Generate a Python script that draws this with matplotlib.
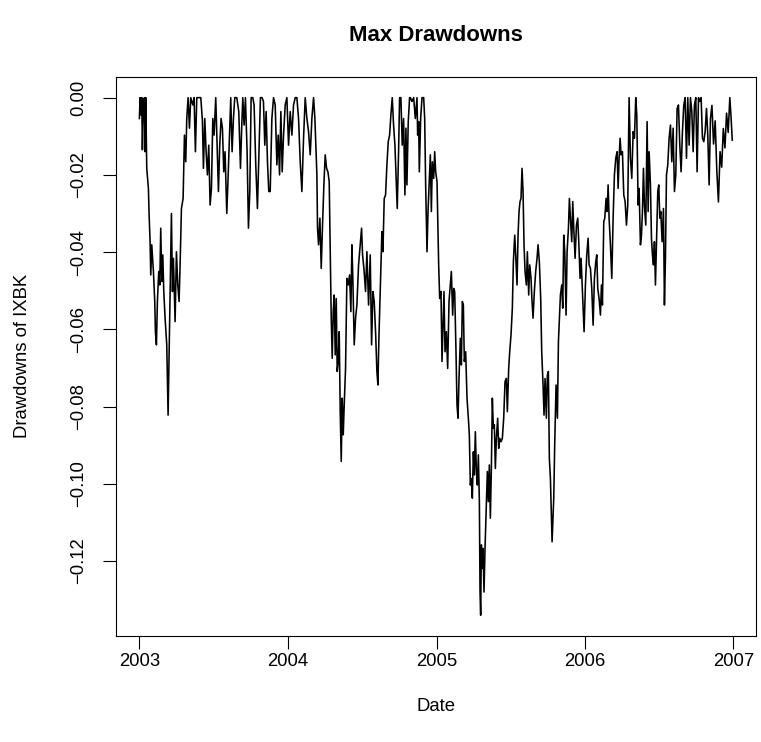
import numpy as np
import pandas as pd
import matplotlib
import matplotlib.pyplot as plt

matplotlib.use('Agg')
plt.rcParams['font.family'] = ['Liberation Sans', 'DejaVu Sans']

# days since 2003-01-01 and drawdown values
days_2003 = [0, 1.7, 4.0, 5.8, 7.4, 9.9, 12.4, 14.0, 15.6, 18.1, 22.2, 23.8, 26.3, 28.0, 30.4,
             34.5, 37.8, 39.4, 41.9, 44.3, 47.6, 50.1, 52.5, 55.0, 57.5, 60.0, 63.2, 67.3, 70.6,
             73.1, 75.5, 78.8, 81.3, 83.7, 87.8, 91.1, 94.4, 97.6, 100.1, 103.4, 107.5, 110.8,
             114.0, 116.5, 119.8, 123.1, 126.3, 131.3, 134.5, 137.8, 141.1, 146.0, 151.0, 155.0,
             157.5, 160.8, 164.1, 167.3, 170.6, 173.9, 177.2, 180.5, 183.7, 187.8, 191.1, 194.4,
             197.6, 200.9, 204.2, 207.5, 210.7, 214.9, 218.1, 221.4, 224.7, 228.0, 231.3, 234.5,
             239.5, 244.4, 248.6, 251.8, 254.3, 257.5, 260.8, 264.9, 268.2, 271.5, 274.8, 278.9,
             282.1, 286.2, 290.3, 294.4, 297.7, 301.8, 305.1, 308.4, 311.7, 315.0, 318.2]
dd_2003 = [-0.0054, 0, -0.0045, 0, -0.0135, -0.0019, 0, -0.0140, 0, -0.0183, -0.0235, -0.0300,
           -0.0373, -0.0459, -0.0381, -0.0450, -0.0528, -0.0606, -0.0640, -0.0528, -0.0450,
           -0.0485, -0.0338, -0.0476, -0.0407, -0.0502, -0.0571, -0.0640, -0.0822, -0.0658,
           -0.0502, -0.0300, -0.0502, -0.0416, -0.0580, -0.0399, -0.0485, -0.0528, -0.0433,
           -0.0287, -0.0261, -0.0097, -0.0166, -0.0054, 0, -0.0079, 0, -0.0019, 0, -0.0140, 0,
           0, 0, -0.0060, -0.0183, -0.0054, -0.0140, -0.0200, -0.0123, -0.0278, -0.0235,
           -0.0054, -0.0097, 0, -0.0123, -0.0243, -0.0123, -0.0054, -0.0079, -0.0192, -0.0140,
           -0.0300, -0.0209, -0.0105, 0, -0.0140, -0.0054, 0, 0, -0.0036, -0.0183, -0.0071, 0,
           -0.0071, 0, -0.0140, -0.0338, -0.0243, 0, 0, -0.0019, -0.0174, -0.0287, -0.0123, 0,
           0, -0.0010, -0.0123, -0.0036, -0.0166, -0.0243]

days_2004 = [321.7, 325.8, 329.9, 334.0, 338.1, 341.4, 344.7, 347.9, 351.2, 354.5, 358.6, 362.7,
             366.8, 370.9, 375.0, 379.1, 383.2, 387.3, 391.4, 395.5, 399.6, 403.7, 407.8, 411.9,
             416.0, 420.1, 424.2, 428.3, 431.6, 434.9, 436.5, 438.1, 440.6, 443.9, 447.2, 450.4,
             453.7, 457.0, 460.3, 463.6, 466.8, 469.3, 471.8, 474.2, 476.7, 479.1, 481.6, 484.1,
             486.5, 489.0, 491.4, 493.9, 496.4, 498.8, 501.3, 503.7, 507.0, 510.3, 513.6, 516.9,
             520.1, 522.6, 525.1, 528.3, 531.6, 534.9, 539.0, 543.1, 546.4, 548.8, 552.1, 556.2,
             559.5, 563.6, 567.7, 571.0, 574.3, 577.5, 580.8, 584.1, 586.6, 589.0, 592.3, 596.4,
             598.9, 602.1, 605.4, 608.7, 612.0, 615.3, 618.5, 621.8, 625.1, 628.4, 631.7, 634.1,
             637.4, 639.9, 643.1, 646.4, 649.7, 653.0, 655.5, 657.9, 661.2, 664.5]
dd_2004 = [-0.0243, -0.0054, 0, -0.0019, -0.0174, -0.0097, -0.0200, -0.0036, -0.0192, -0.0097,
           -0.0019, 0, -0.0123, -0.0036, -0.0097, -0.0019, 0, 0, -0.0054, -0.0166, -0.0243,
           -0.0105, 0, -0.0054, -0.0088, -0.0148, -0.0054, 0, -0.0054, -0.0148, -0.0200, -0.0338,
           -0.0381, -0.0312, -0.0442, -0.0330, -0.0226, -0.0148, -0.0183, -0.0192, -0.0217,
           -0.0399, -0.0571, -0.0675, -0.0554, -0.0511, -0.0666, -0.0520, -0.0709, -0.0683,
           -0.0606, -0.0813, -0.0942, -0.0778, -0.0873, -0.0796, -0.0701, -0.0468, -0.0485,
           -0.0459, -0.0554, -0.0381, -0.0476, -0.0640, -0.0571, -0.0537, -0.0433, -0.0381,
           -0.0338, -0.0407, -0.0442, -0.0502, -0.0399, -0.0537, -0.0407, -0.0640, -0.0502,
           -0.0528, -0.0606, -0.0709, -0.0744, -0.0623, -0.0502, -0.0347, -0.0399, -0.0261,
           -0.0252, -0.0174, -0.0114, -0.0097, -0.0045, 0, -0.0071, -0.0123, -0.0217, -0.0287,
           -0.0140, 0, 0, -0.0123, -0.0054, -0.0252, -0.0079, -0.0226, -0.0062, 0]

days_2005 = [666.3, 670.4, 674.5, 678.6, 682.7, 684.3, 686.8, 688.4, 691.7, 695.0, 699.1, 701.6,
             704.0, 707.3, 709.8, 713.0, 715.5, 718.0, 720.4, 723.7, 726.2, 728.6, 731.9, 736.0,
             738.5, 741.7, 744.2, 746.7, 749.1, 751.6, 754.9, 758.1, 761.4, 764.7, 767.2, 770.4,
             772.9, 775.4, 778.6, 781.1, 783.6, 786.0, 789.3, 791.8, 794.2, 796.7, 799.1, 802.4,
             805.7, 809.0, 811.4, 813.9, 816.4, 818.8, 821.3, 823.7, 826.2, 828.7, 831.1, 833.6,
             836.1, 837.7, 839.3, 841.0, 842.6, 845.1, 847.5, 850.0, 853.3, 855.7, 858.2, 860.6,
             863.1, 865.6, 868.0, 870.5, 872.9, 875.4, 877.9, 881.1, 883.6, 886.1, 889.3, 892.6,
             895.9, 899.2, 902.5, 904.9, 908.2, 910.7, 913.9, 917.2, 919.7, 923.0, 925.4, 928.7,
             931.2, 933.6, 936.1, 938.5, 941.0, 943.5, 945.9, 948.4, 951.7, 954.1, 957.4, 959.9,
             963.1, 965.6, 968.1, 971.3, 974.6, 977.9, 980.4, 983.6, 986.9, 989.4, 992.7, 995.1,
             997.6, 1000.9, 1003.3, 1005.8, 1008.2]
dd_2005 = [0, -0.0010, 0, -0.0054, 0, -0.0097, -0.0062, -0.0192, -0.0054, 0, 0, -0.0054, -0.0226,
           -0.0399, -0.0295, -0.0209, -0.0148, -0.0295, -0.0166, -0.0209, -0.0140, -0.0192,
           -0.0217, -0.0433, -0.0520, -0.0502, -0.0683, -0.0589, -0.0502, -0.0658, -0.0606,
           -0.0701, -0.0528, -0.0485, -0.0450, -0.0563, -0.0494, -0.0502, -0.0658, -0.0796,
           -0.0830, -0.0727, -0.0623, -0.0692, -0.0528, -0.0537, -0.0683, -0.0658, -0.0778,
           -0.0830, -0.0873, -0.1003, -0.0986, -0.1037, -0.0917, -0.0977, -0.0865, -0.0968,
           -0.1003, -0.0925, -0.1046, -0.1280, -0.1340, -0.1158, -0.1219, -0.1167, -0.1280,
           -0.1167, -0.1055, -0.0968, -0.1046, -0.0951, -0.1089, -0.0960, -0.0778, -0.0856,
           -0.0847, -0.0960, -0.0882, -0.0830, -0.0908, -0.0882, -0.0891, -0.0882, -0.0830,
           -0.0735, -0.0727, -0.0813, -0.0701, -0.0658, -0.0614, -0.0545, -0.0425, -0.0356,
           -0.0407, -0.0485, -0.0356, -0.0295, -0.0269, -0.0261, -0.0183, -0.0243, -0.0381,
           -0.0450, -0.0485, -0.0399, -0.0511, -0.0433, -0.0468, -0.0528, -0.0571, -0.0502,
           -0.0450, -0.0416, -0.0381, -0.0425, -0.0520, -0.0658, -0.0744, -0.0822, -0.0727,
           -0.0830, -0.0718, -0.0709, -0.0934]

days_2006 = [1010.8, 1014.9, 1019.0, 1021.5, 1024.7, 1028.0, 1030.5, 1032.9, 1035.4, 1038.7,
             1041.1, 1043.6, 1046.1, 1049.3, 1051.8, 1055.1, 1057.5, 1060.0, 1063.3, 1065.7,
             1068.2, 1071.5, 1074.8, 1078.0, 1080.5, 1083.8, 1086.2, 1089.5, 1093.6, 1096.9,
             1100.2, 1103.5, 1105.9, 1109.2, 1112.5, 1115.8, 1119.0, 1122.3, 1124.8, 1127.2,
             1130.5, 1133.8, 1136.3, 1138.7, 1142.0, 1144.5, 1147.7, 1150.2, 1152.7, 1155.1,
             1158.4, 1161.7, 1165.0, 1168.2, 1171.5, 1174.8, 1177.3, 1179.7, 1182.2, 1184.6,
             1187.9, 1191.2, 1194.5, 1197.8, 1201.0, 1204.3, 1207.6, 1210.9, 1214.2, 1217.4,
             1220.7, 1223.2, 1226.5, 1228.9, 1232.2, 1234.7, 1237.1, 1239.6, 1242.0, 1245.3,
             1248.6, 1251.1, 1253.5, 1256.8, 1259.3, 1261.7, 1264.2, 1266.6, 1269.1, 1271.6,
             1274.8, 1277.3, 1279.8, 1282.2, 1285.5, 1288.8, 1291.2, 1293.7, 1296.2, 1299.4,
             1302.7, 1306.0, 1309.3, 1312.6, 1315.8, 1319.1, 1322.4, 1325.7, 1329.0, 1332.2,
             1335.5, 1338.8, 1342.1, 1345.4, 1348.6, 1351.9, 1355.2, 1358.5, 1361.8, 1365.0,
             1368.3, 1371.6, 1374.9, 1378.2, 1381.4, 1384.7, 1388.0, 1391.3, 1394.6, 1397.8,
             1401.1, 1404.4, 1408, 1412, 1416, 1420, 1424, 1428, 1432, 1436, 1440, 1444, 1448,
             1452, 1455, 1458]
dd_2006 = [-0.0986, -0.1150, -0.1037, -0.0891, -0.0744, -0.0830, -0.0632, -0.0571, -0.0511,
           -0.0485, -0.0545, -0.0356, -0.0399, -0.0563, -0.0399, -0.0338, -0.0261, -0.0312,
           -0.0373, -0.0269, -0.0338, -0.0416, -0.0330, -0.0312, -0.0373, -0.0468, -0.0416,
           -0.0502, -0.0606, -0.0485, -0.0407, -0.0364, -0.0433, -0.0442, -0.0494, -0.0589,
           -0.0468, -0.0425, -0.0407, -0.0494, -0.0520, -0.0563, -0.0485, -0.0537, -0.0321,
           -0.0312, -0.0261, -0.0295, -0.0226, -0.0312, -0.0381, -0.0468, -0.0312, -0.0200,
           -0.0157, -0.0140, -0.0235, -0.0157, -0.0105, -0.0148, -0.0140, -0.0252, -0.0269,
           -0.0330, -0.0278, 0, -0.0157, -0.0209, -0.0088, -0.0105, 0, -0.0045, -0.0278, -0.0235,
           -0.0381, -0.0356, -0.0295, -0.0183, -0.0278, -0.0330, -0.0062, -0.0295, -0.0140,
           -0.0226, -0.0364, -0.0407, -0.0433, -0.0373, -0.0485, -0.0381, -0.0243, -0.0226,
           -0.0312, -0.0295, -0.0373, -0.0287, -0.0537, -0.0416, -0.0200, -0.0174, -0.0105,
           -0.0071, -0.0166, -0.0079, -0.0243, -0.0200, -0.0028, -0.0019, -0.0123, -0.0192,
           -0.0088, -0.0019, 0, -0.0157, 0, -0.0123, 0, -0.0036, -0.0140, -0.0019, 0, -0.0192, 0,
           -0.0010, 0, -0.0105, -0.0114, -0.0088, -0.0028, -0.0097, -0.0226, -0.0054, -0.0020,
           -0.0120, -0.0060, -0.0190, -0.0270, -0.0140, -0.0180, -0.0080, -0.0130, -0.0040,
           -0.0090, 0, -0.0050, -0.0110]

year_ticks = ['2003', '2004', '2005', '2006', '2007']
y_ticks = [0.00, -0.02, -0.04, -0.06, -0.08, -0.10, -0.12]

days = np.array(days_2003 + days_2004 + days_2005 + days_2006)
dd = np.array(dd_2003 + dd_2004 + dd_2005 + dd_2006)
start = pd.Timestamp('2003-01-01')
dates = start + pd.to_timedelta(days, unit='D')

fig = plt.figure(figsize=(7.61, 7.42), dpi=100)
ax = fig.add_axes([0.152, 0.143, 0.8414, 0.7533])
ax.plot(dates, dd, color='black', lw=1.15)

# R-style 4% padding around the data range
span = dates.max() - dates.min()
ax.set_xlim(dates.min() - 0.04 * span, dates.max() + 0.04 * span)
rng = dd.max() - dd.min()
ax.set_ylim(dd.min() - 0.04 * rng, dd.max() + 0.04 * rng)

ax.set_xticks([pd.Timestamp(y + '-01-01') for y in year_ticks])
ax.set_xticklabels(year_ticks)
ax.set_yticks(y_ticks)
ax.set_yticklabels([f'{v:.2f}'.replace('-', '\u2212') for v in y_ticks],
                   rotation=90, va='center')

ax.tick_params(direction='out', length=9.5, width=0.8, labelsize=13.3, color='black')
ax.tick_params(axis='x', pad=3)
ax.tick_params(axis='y', pad=11)
for s in ax.spines.values():
    s.set_linewidth(0.8)

ax.set_xlabel('Date', fontsize=13.3, labelpad=20)
ax.set_ylabel('Drawdowns of IXBK', fontsize=13.3, labelpad=28)
fig.suptitle('Max Drawdowns', fontsize=16, fontweight='bold', x=0.5733, y=0.966)

fig.savefig('out.png', dpi=100)
